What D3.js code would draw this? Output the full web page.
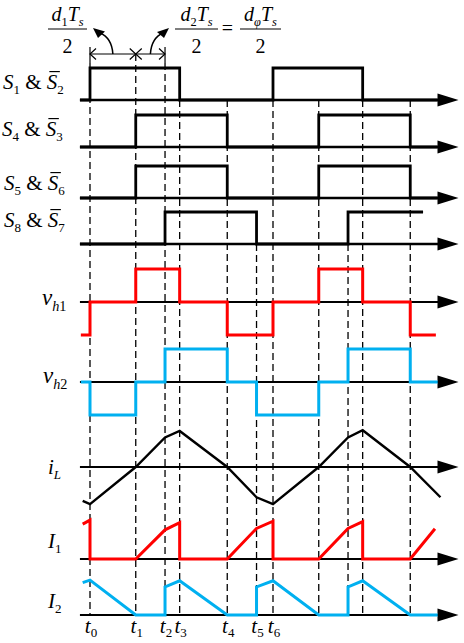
<!DOCTYPE html>
<html>
<head>
<meta charset="utf-8">
<script src="https://cdn.jsdelivr.net/npm/d3@7"></script>
<style>
  body { margin: 0; background: #fff; }
  svg { display: block; }
  text { font-family: "Liberation Serif", "Times New Roman", serif; fill: #000; }
</style>
</head>
<body>
<svg id="chart" width="464" height="643"></svg>
<script>
// time in units of Ts/2, t0 = 0
const tickTimes = [0, 0.25, 0.41, 0.49, 0.75, 0.91, 1.0];
const tickNames = ["0", "1", "2", "3", "4", "5", "6"];
const dashTimes = [0, 0.25, 0.41, 0.49, 0.75, 0.91, 1.0, 1.25, 1.41, 1.49, 1.75];
const dashFrom  = ["bar", "dim", "bar", "S1", "S1", "S8", "S1", "S1", "S8", "S1", "S1"];

// switching signals (step after), 0 = low, 1 = high
const s1 = [[-0.055,0],[0,1],[0.49,0],[1.0,1],[1.49,0],[1.9,0]];
const s4 = [[-0.055,0],[0.25,1],[0.75,0],[1.25,1],[1.75,0],[1.9,0]];
const s5 = [[-0.055,0],[0.25,1],[0.75,0],[1.25,1],[1.75,0],[1.9,0]];
const s8 = [[-0.055,0],[0.41,1],[0.91,0],[1.41,1],[1.82,1]];

// bridge voltages (step after), -1 / 0 / +1
const vh1 = [[-0.05,-1],[0,0],[0.25,1],[0.49,0],[0.75,-1],[1.0,0],[1.25,1],[1.49,0],[1.75,-1],[1.89,-1]];
const vh2 = [[-0.05,0],[0,-1],[0.25,0],[0.41,1],[0.75,0],[0.91,-1],[1.25,0],[1.41,1],[1.75,0],[1.9,0]];

// currents (piecewise linear)
const iL = [[-0.04,-0.94],[0,-1.03],[0.25,0],[0.41,0.82],[0.49,1.0],[0.75,0],[0.91,-0.84],[1.0,-1.03],
            [1.25,0],[1.41,0.82],[1.49,1.02],[1.75,0],[1.915,-0.84]];
const i1 = [[-0.04,0.97],[0,1.08],[0,0],[0.25,0],[0.41,0.81],[0.49,1.01],[0.49,0],[0.75,0],[0.91,0.85],
            [1.0,1.05],[1.0,0],[1.25,0],[1.41,0.85],[1.49,1.04],[1.49,0],[1.75,0],[1.885,0.84]];
const i2 = [[-0.04,0.9],[0,0.97],[0.25,0],[0.41,0],[0.41,0.78],[0.49,0.95],[0.75,0],[0.91,0],[0.91,0.78],
            [1.0,0.95],[1.25,0],[1.41,0],[1.41,0.78],[1.49,0.95],[1.75,0],[1.9,0]];

// layout
const rowY = {S1: 100, S4: 147, S5: 198, S8: 244, vh1: 302, vh2: 382, iL: 467, I1: 559, I2: 615};
const red = "#ff0000", blue = "#00b0f0";

const svg = d3.select("#chart");
const x = d3.scaleLinear().domain([0, 1]).range([90, 273]);
const sAmp = d3.scaleLinear().domain([0, 1]).range([0, -32]);
const vAmp = d3.scaleLinear().domain([-1, 1]).range([33, -33]);
const iAmp = d3.scaleLinear().domain([-1, 1]).range([36, -36]);
const axisStart = -0.055, axisEnd = 1.91;

// dashed guides
const topOf = {bar: 63, dim: 54, S1: rowY.S1, S8: rowY.S8};
svg.append("g").selectAll("line").data(dashTimes).join("line")
  .attr("x1", d => x(d)).attr("x2", d => x(d))
  .attr("y1", (d, i) => topOf[dashFrom[i]]).attr("y2", rowY.I2)
  .attr("stroke", "#000").attr("stroke-width", 1.3).attr("stroke-dasharray", "7,4");

// axes with arrows
const axes = svg.append("g");
Object.keys(rowY).forEach(k => {
  const y = rowY[k];
  axes.append("line").attr("x1", x(axisStart)).attr("x2", x(axisEnd)).attr("y1", y).attr("y2", y)
    .attr("stroke", "#000").attr("stroke-width", k[0] === "S" ? 2.6 : 2);
  axes.append("path")
    .attr("d", `M${x(axisEnd) - 2},${y - 6.5}L${x(axisEnd) + 19},${y}L${x(axisEnd) - 2},${y + 6.5}Z`)
    .attr("fill", "#000");
});

function wave(data, row, amp, color, width, curve) {
  const line = d3.line().x(d => x(d[0])).y(d => rowY[row] + amp(d[1])).curve(curve);
  svg.append("path").attr("d", line(data)).attr("fill", "none")
    .attr("stroke", color).attr("stroke-width", width)
    .attr("stroke-linejoin", "miter").attr("stroke-linecap", "butt");
}
wave(s1, "S1", sAmp, "#000", 2.8, d3.curveStepAfter);
wave(s4, "S4", sAmp, "#000", 2.8, d3.curveStepAfter);
wave(s5, "S5", sAmp, "#000", 2.8, d3.curveStepAfter);
wave(s8, "S8", sAmp, "#000", 2.8, d3.curveStepAfter);
wave(vh1, "vh1", vAmp, red, 3, d3.curveStepAfter);
wave(vh2, "vh2", vAmp, blue, 3, d3.curveStepAfter);
wave(iL, "iL", iAmp, "#000", 2.4, d3.curveLinear);
wave(i1, "I1", iAmp, red, 3, d3.curveLinear);
wave(i2, "I2", iAmp, blue, 3, d3.curveLinear);

// rich text: parts [text, kind] kind: i italic, r roman, si/sr subscript, o overlined italic
function rich(px, py, parts, size, anchor, shiftK) {
  const sub = size * 0.62, shift = size * (shiftK || 0.26);
  const t = svg.append("text").attr("x", px).attr("y", py).attr("font-size", size)
    .attr("text-anchor", anchor || "start");
  let down = false, idx = 0;
  const overs = [];
  parts.forEach(([s, k]) => {
    const isSub = k === "si" || k === "sr";
    let dy = 0;
    if (isSub && !down) { dy = shift; down = true; }
    if (!isSub && down) { dy = -shift; down = false; }
    t.append("tspan").attr("dy", dy).attr("font-size", isSub ? sub : size)
      .attr("font-style", (k === "i" || k === "si" || k === "o") ? "italic" : "normal")
      .text(s);
    if (k === "o") overs.push(idx);
    idx += s.length;
  });
  const n = t.node();
  overs.forEach(ci => {
    const a = n.getStartPositionOfChar(ci).x, b = n.getEndPositionOfChar(ci).x;
    svg.append("line").attr("x1", a + 2.5).attr("x2", b + 2.5)
      .attr("y1", py - size * 0.83).attr("y2", py - size * 0.83)
      .attr("stroke", "#000").attr("stroke-width", 1.2);
  });
  return t;
}

// row labels
const F = 21;
rich(3, 89, [["S","i"],["1","sr"],[" & ","r"],["S","o"],["2","sr"]], F);
rich(2, 136, [["S","i"],["4","sr"],[" & ","r"],["S","o"],["3","sr"]], F);
rich(4, 190, [["S","i"],["5","sr"],[" & ","r"],["S","o"],["6","sr"]], F);
rich(4, 227, [["S","i"],["8","sr"],[" & ","r"],["S","o"],["7","sr"]], F);
rich(42, 305, [["v","i"],["h","si"],["1","sr"]], 23);
rich(43, 383, [["v","i"],["h","si"],["2","sr"]], 23);
rich(48, 474, [["i","i"],["L","si"]], F);
rich(48, 548, [["I","i"],["1","sr"]], F);
rich(48, 608, [["I","i"],["2","sr"]], F);

// time labels
tickTimes.forEach((t, i) => {
  rich(x(t) + 1, 633, [["t","i"],[tickNames[i],"sr"]], F, "middle", 0.18);
});

// fractions
function frac(cx, num, w) {
  rich(cx, 21, num, 20, "middle");
  svg.append("line").attr("x1", cx - w / 2).attr("x2", cx + w / 2).attr("y1", 29).attr("y2", 29)
    .attr("stroke", "#000").attr("stroke-width", 1.2);
  rich(cx, 53, [["2","r"]], 20, "middle");
}
frac(67.5, [["d","i"],["1","sr"],["T","i"],["s","si"]], 39);
frac(196.5, [["d","i"],["2","sr"],["T","i"],["s","si"]], 43);
rich(227.5, 35, [["=","r"]], 20, "middle");
frac(260.5, [["d","i"],["φ","si"],["T","i"],["s","si"]], 41);

// dimension line d1Ts/2 | d2Ts/2
const ann = svg.append("g").attr("stroke", "#000").attr("stroke-width", 1.2).attr("fill", "none");
const xa = x(0), xb = x(0.25), xc = x(0.41), yd = 54;
ann.append("line").attr("x1", xa).attr("x2", xc).attr("y1", yd).attr("y2", yd);
[xa, xc].forEach(v => ann.append("line").attr("x1", v).attr("x2", v).attr("y1", yd - 7).attr("y2", yd + 9));
const chev = (px, dir) => `M${px + dir * 6},${yd - 5.5}L${px},${yd}L${px + dir * 6},${yd + 5.5}`;
ann.append("path").attr("d", chev(xa, 1));
ann.append("path").attr("d", chev(xc, -1));
ann.append("path").attr("d", chev(xb, 1));
ann.append("path").attr("d", chev(xb, -1));
// curved pointers
const m1 = (xa + xb) / 2, m2 = (xb + xc) / 2;
ann.append("path").attr("d", `M${m1},${yd}Q${m1 - 1},${yd - 16} ${xa + 10},${yd - 21}`).attr("stroke-width", 1.5);
ann.append("path").attr("d", `M${m2},${yd}Q${m2 + 1},${yd - 16} ${xc - 2},${yd - 21}`).attr("stroke-width", 1.5);
svg.append("path").attr("d", `M${xa + 3},${yd - 26}L${xa + 15},${yd - 22.5}L${xa + 8},${yd - 16}Z`).attr("fill", "#000");
svg.append("path").attr("d", `M${xc + 4},${yd - 26}L${xc - 8},${yd - 22}L${xc - 1},${yd - 16}Z`).attr("fill", "#000");
</script>
</body>
</html>
